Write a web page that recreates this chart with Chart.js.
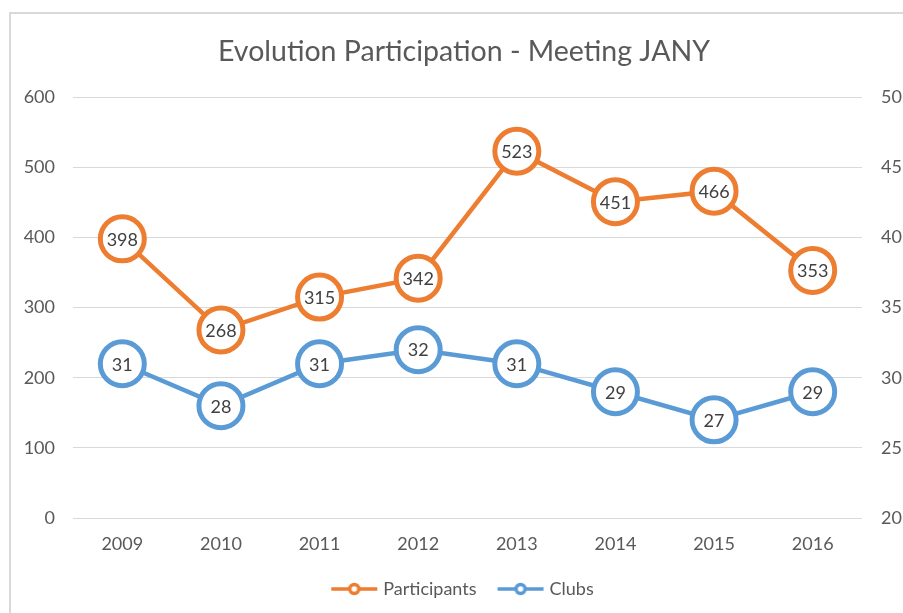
<!DOCTYPE html>
<html>
<head>
<meta charset="utf-8">
<script src="https://cdn.jsdelivr.net/npm/chart.js@4"></script>
<style>
  html, body { margin: 0; padding: 0; background: #fff; overflow: hidden; }
  #frame {
    position: absolute; left: 9px; top: 12px; width: 908px; height: 610px;
    border-left: 2px solid #d9d9d9; border-top: 2px solid #d9d9d9; box-sizing: border-box;
  }
  #wrap { position: absolute; left: 0; top: 0; width: 906px; height: 594px; }
</style>
</head>
<body>
<div id="frame"><div id="wrap"><canvas id="chart"></canvas></div></div>
<script>
const years = ['2009', '2010', '2011', '2012', '2013', '2014', '2015', '2016'];
const participants = [398, 268, 315, 342, 523, 451, 466, 353];
const clubs = [31, 28, 31, 32, 31, 29, 27, 29];

const ORANGE = '#ED7D31';
const BLUE = '#5B9BD5';
const FONT = 'Lato, "Open Sans", sans-serif';

// legend icon: short line with a small ring
function legendIcon(color) {
    const c = document.createElement('canvas');
    c.width = 48; c.height = 14;
    const ctx = c.getContext('2d');
    ctx.strokeStyle = color;
    ctx.lineWidth = 3.5;
    ctx.beginPath();
    ctx.moveTo(1, 7); ctx.lineTo(47, 7);
    ctx.stroke();
    ctx.beginPath();
    ctx.arc(24, 7, 4.5, 0, Math.PI * 2);
    ctx.fillStyle = '#fff';
    ctx.fill();
    ctx.stroke();
    return c;
}

// values written inside the markers
const pointLabels = {
    id: 'pointLabels',
    afterDatasetsDraw(chart) {
        const ctx = chart.ctx;
        ctx.save();
        ctx.font = '18px ' + FONT;
        ctx.fillStyle = '#404040';
        ctx.textAlign = 'center';
        ctx.textBaseline = 'middle';
        chart.data.datasets.forEach((ds, i) => {
            chart.getDatasetMeta(i).data.forEach((pt, j) => {
                ctx.fillText(ds.data[j], pt.x, pt.y + 1);
            });
        });
        ctx.restore();
    }
};

new Chart(document.getElementById('chart'), {
    type: 'line',
    data: {
        labels: years,
        datasets: [{
            label: 'Participants',
            data: participants,
            yAxisID: 'y',
            borderColor: ORANGE,
            backgroundColor: '#fff',
            borderWidth: 4.5,
            pointRadius: 22,
            pointHoverRadius: 22,
            pointBorderWidth: 5,
            pointBackgroundColor: '#fff',
            pointBorderColor: ORANGE
        }, {
            label: 'Clubs',
            data: clubs,
            yAxisID: 'y1',
            borderColor: BLUE,
            backgroundColor: '#fff',
            borderWidth: 4.5,
            pointRadius: 22,
            pointHoverRadius: 22,
            pointBorderWidth: 5,
            pointBackgroundColor: '#fff',
            pointBorderColor: BLUE
        }]
    },
    options: {
        responsive: true,
        maintainAspectRatio: false,
        animation: false,
        layout: { padding: 0 },
        plugins: {
            title: {
                display: true,
                text: 'Evolution Participation - Meeting JANY',
                color: '#595959',
                font: { family: FONT, size: 28.5, weight: 'normal' },
                padding: { top: 21, bottom: 28 }
            },
            legend: {
                position: 'bottom',
                labels: {
                    usePointStyle: true,
                    pointStyleWidth: 40,
                    color: '#595959',
                    font: { family: FONT, size: 18 },
                    padding: 24,
                    generateLabels(chart) {
                        return chart.data.datasets.map((ds, i) => ({
                            text: ds.label,
                            pointStyle: legendIcon(ds.borderColor),
                            fontColor: '#595959',
                            strokeStyle: ds.borderColor,
                            fillStyle: '#fff',
                            lineWidth: 0,
                            datasetIndex: i
                        }));
                    }
                }
            },
            tooltip: { enabled: false }
        },
        scales: {
            x: {
                offset: true,
                grid: { display: false, drawTicks: false },
                border: { display: false },
                ticks: { color: '#595959', font: { family: FONT, size: 18 }, padding: 15 },
                afterFit(scale) { scale.height = 38; }
            },
            y: {
                position: 'left',
                min: 0, max: 600,
                ticks: { stepSize: 100, color: '#595959', font: { family: FONT, size: 18 }, padding: 18 },
                grid: { color: '#d9d9d9', lineWidth: 1, drawTicks: false },
                border: { display: false },
                afterFit(scale) { scale.width = 62; }
            },
            y1: {
                position: 'right',
                min: 20, max: 50,
                ticks: { stepSize: 5, color: '#595959', font: { family: FONT, size: 18 }, padding: 19 },
                grid: { display: false, drawTicks: false },
                border: { display: false },
                afterFit(scale) { scale.width = 55; }
            }
        }
    },
    plugins: [pointLabels]
});
</script>
</body>
</html>
